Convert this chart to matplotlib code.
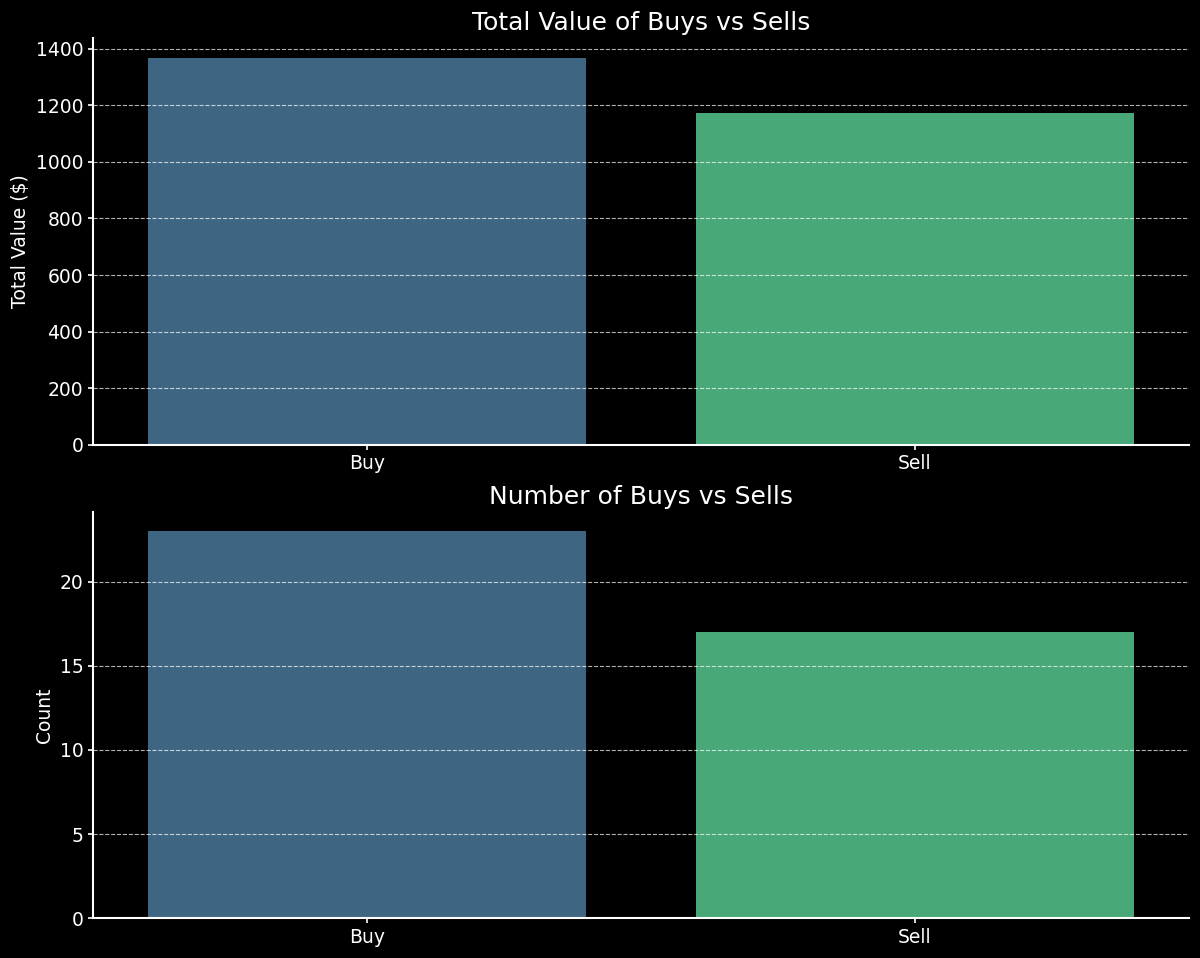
import matplotlib.pyplot as plt

# data
sides = ['Buy', 'Sell']
total_value = [1368, 1174]
trade_count = [23, 17]
bar_colors = ['#3e6682', '#48a878']

plt.style.use('dark_background')
fig, (ax1, ax2) = plt.subplots(2, 1, figsize=(12, 9.58), dpi=100)

ax1.bar(sides, total_value, color=bar_colors, width=0.8)
ax1.set_title('Total Value of Buys vs Sells', fontsize=18)
ax1.set_ylabel('Total Value ($)', fontsize=13.5)

ax2.bar(sides, trade_count, color=bar_colors, width=0.8)
ax2.set_title('Number of Buys vs Sells', fontsize=18)
ax2.set_ylabel('Count', fontsize=13.5)

for ax in (ax1, ax2):
    ax.set_xlim(-0.5, 1.5)
    ax.grid(axis='y', linestyle='--', alpha=0.7)
    ax.spines['top'].set_visible(False)
    ax.spines['right'].set_visible(False)
    ax.spines['left'].set_linewidth(1.5)
    ax.spines['bottom'].set_linewidth(1.5)
    ax.tick_params(labelsize=13.5, width=1.2)

plt.tight_layout(pad=0.8)
plt.savefig('out.png')
